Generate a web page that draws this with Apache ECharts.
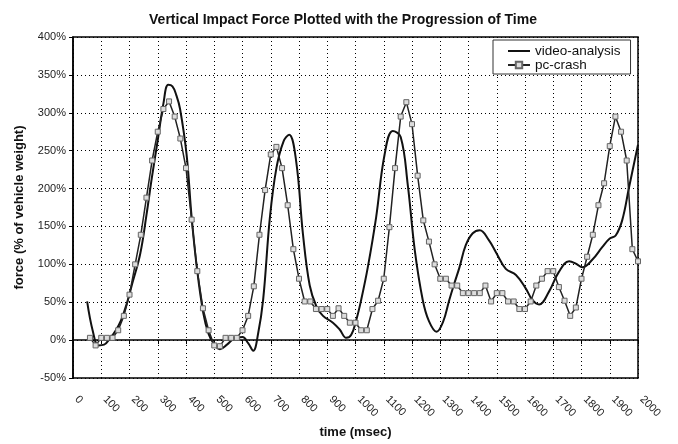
<!DOCTYPE html>
<html>
<head>
<meta charset="utf-8">
<script src="https://cdn.jsdelivr.net/npm/echarts@6/dist/echarts.min.js"></script>
<style>
    html, body { margin: 0; padding: 0; background: #fff; }
    #chart { width: 678px; height: 444px; }
</style>
</head>
<body>
<div id="chart"></div>
<script>
// video-analysis curve (time in msec, force in %)
var videoTime = [50, 70, 90, 110, 130, 150, 170, 191, 210, 238, 260, 279, 300, 320, 337, 352, 365, 379, 402, 420,
    438, 461, 480, 497, 520, 545, 567, 600, 620, 638, 655, 673, 697, 720, 745, 765, 790, 814, 838, 862,
    885, 920, 944, 967, 985, 1003, 1020, 1044, 1073, 1103, 1132, 1160, 1185, 1210, 1238, 1260, 1287, 1310, 1332, 1350,
    1368, 1390, 1415, 1440, 1472, 1497, 1532, 1568, 1603, 1626, 1650, 1685, 1720, 1756, 1780, 1803, 1838, 1874, 1900, 1921,
    1944, 1968, 2000];
var videoForce = [51, 12, -7, -6, 2, 12, 26, 49, 75, 114, 165, 214, 264, 312, 337, 335, 324, 305, 245, 162,
    97, 36, 8, -4, -12, -6, 1, 4, -4, -14, 8, 53, 162, 227, 262, 271, 236, 140, 72, 44,
    32, 23, 14, 3, 7, 27, 53, 97, 162, 245, 276, 268, 205, 118, 53, 25, 11, 24, 53, 75,
    96, 125, 141, 145, 132, 116, 94, 86, 68, 53, 47, 64, 90, 104, 101, 96, 106, 123, 134, 138,
    158, 201, 258];

// pc-crash samples
var crashTime = [60, 80, 100, 120, 140, 160, 180, 200, 220, 240,
    260, 280, 300, 320, 340, 360, 380, 400, 420, 440,
    460, 480, 500, 520, 540, 560, 580, 600, 620, 640,
    660, 680, 700, 720, 740, 760, 780, 800, 820, 840,
    860, 880, 900, 920, 940, 960, 980, 1000, 1020, 1040,
    1060, 1080, 1100, 1120, 1140, 1160, 1180, 1200, 1220, 1240,
    1260, 1280, 1300, 1320, 1340, 1360, 1380, 1400, 1420, 1440,
    1460, 1480, 1500, 1520, 1540, 1560, 1580, 1600, 1620, 1640,
    1660, 1680, 1700, 1720, 1740, 1760, 1780, 1800, 1820, 1840,
    1860, 1880, 1900, 1920, 1940, 1960, 1980, 2000];
var crashForce = [3, -7, 3, 3, 3, 13, 32, 60, 100, 139,
    188, 237, 275, 305, 315, 295, 266, 227, 159, 91,
    42, 13, -7, -8, 3, 3, 3, 13, 32, 71,
    139, 198, 245, 255, 227, 178, 120, 81, 51, 51,
    41, 41, 41, 32, 42, 32, 23, 23, 13, 13,
    41, 52, 81, 149, 227, 295, 314, 285, 217, 158,
    130, 100, 81, 81, 72, 72, 62, 62, 62, 62,
    72, 51, 62, 62, 51, 51, 41, 41, 51, 72,
    81, 91, 91, 70, 52, 32, 43, 81, 110, 139,
    178, 207, 256, 295, 275, 237, 120, 104];

function pairs(xs, ys) {
    return xs.map(function (x, i) {
        return [x, ys[i]];
    });
}

var font = 'Liberation Sans, Arial, sans-serif';
var myChart = echarts.init(document.getElementById('chart'));

myChart.setOption({
    animation: false,
    backgroundColor: '#fff',
    title: {
        text: 'Vertical Impact Force Plotted with the Progression of Time',
        left: 338,
        textAlign: 'center',
        top: 8,
        textStyle: {
            fontFamily: font,
            fontSize: 14,
            fontWeight: 'bold',
            color: '#111'
        }
    },
    legend: {
        orient: 'vertical',
        left: 493,
        top: 40,
        backgroundColor: '#fff',
        borderColor: '#333',
        borderWidth: 1,
        padding: [4, 10, 2, 14],
        itemGap: 0,
        itemWidth: 22,
        itemHeight: 8,
        textStyle: {
            fontFamily: font,
            fontSize: 13.5,
            color: '#111'
        },
        data: [
            {name: 'video-analysis', itemStyle: {opacity: 0}},
            {name: 'pc-crash'}
        ]
    },
    grid: {
        left: 73,
        right: 40,
        top: 37,
        bottom: 62,
        show: true,
        borderColor: '#000',
        borderWidth: 1.5
    },
    xAxis: {
        type: 'value',
        min: 0,
        max: 2000,
        interval: 100,
        name: 'time (msec)',
        nameLocation: 'middle',
        nameGap: 48,
        nameTextStyle: {
            fontFamily: font,
            fontSize: 13,
            fontWeight: 'bold',
            color: '#111'
        },
        axisLine: {lineStyle: {color: '#000', width: 1.5}},
        axisTick: {show: true, length: 4, lineStyle: {color: '#000'}},
        axisLabel: {
            rotate: -45,
            margin: 16,
            padding: [0, 0, 0, 5],
            fontFamily: font,
            fontSize: 11,
            color: '#222',
            showMinLabel: true,
            showMaxLabel: true,
            formatter: function (v) {
                return String(v);
            }
        },
        splitLine: {
            show: true,
            lineStyle: {color: '#000', width: 1, type: [1, 3]}
        }
    },
    yAxis: {
        type: 'value',
        min: -50,
        max: 400,
        interval: 50,
        name: 'force (% of vehicle weight)',
        nameLocation: 'middle',
        nameGap: 47,
        nameTextStyle: {
            fontFamily: font,
            fontSize: 13,
            fontWeight: 'bold',
            color: '#111'
        },
        axisLine: {show: true, lineStyle: {color: '#000', width: 1.5}},
        axisTick: {show: true, length: 4, lineStyle: {color: '#000'}},
        axisLabel: {
            formatter: '{value}%',
            margin: 7,
            fontFamily: font,
            fontSize: 11,
            color: '#222'
        },
        splitLine: {
            show: true,
            lineStyle: {color: '#000', width: 1, type: [1, 3]}
        }
    },
    series: [{
        name: 'video-analysis',
        type: 'line',
        smooth: 0.4,
        symbol: 'none',
        lineStyle: {color: '#111', width: 2},
        itemStyle: {color: '#111'},
        data: pairs(videoTime, videoForce)
    }, {
        name: 'pc-crash',
        type: 'line',
        symbol: 'rect',
        symbolSize: 5,
        showAllSymbol: true,
        lineStyle: {color: '#222', width: 1.5},
        itemStyle: {color: '#ddd', borderColor: '#666', borderWidth: 1},
        data: pairs(crashTime, crashForce)
    }]
});
</script>
</body>
</html>
